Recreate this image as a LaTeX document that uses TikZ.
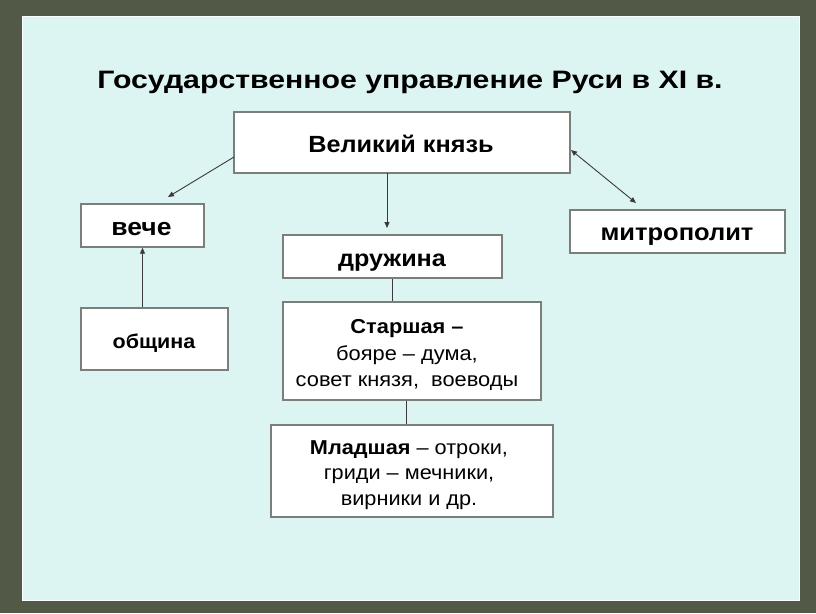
\documentclass[tikz,border=0pt]{standalone}
\usepackage{fontspec}
\setmainfont[FakeStretch=1.08]{Liberation Sans}
\newfontfamily\ttlfont[FakeStretch=1.2]{Liberation Sans}
\usetikzlibrary{arrows.meta}
\definecolor{bgolive}{HTML}{525A47}
\definecolor{slidecol}{HTML}{DDF5F2}
\definecolor{boxline}{HTML}{7A7F7C}
\definecolor{arrcol}{HTML}{3A3A3A}
\tikzset{
  box/.style={draw=boxline, line width=1.4pt, fill=white, inner sep=0pt},
  txt/.style={inner sep=0pt, align=center, text=black},
  arr/.style={draw=arrcol, line width=0.9pt, -{Triangle[length=6pt,width=5pt]}},
  darr/.style={draw=arrcol, line width=0.9pt, {Triangle[length=6pt,width=5pt]}-{Triangle[length=6pt,width=5pt]}},
  lin/.style={draw=arrcol, line width=0.9pt}
}
\begin{document}
\begin{tikzpicture}[x=1pt,y=-1pt]
\fill[bgolive] (0,0) rectangle (816,613);
\useasboundingbox (0,0) rectangle (816,613);
\fill[slidecol] (22,16) rectangle (799,600);
\draw[white!85!slidecol, line width=1pt] (22,16) rectangle (799,600);
\node[txt, anchor=base, font=\ttlfont\bfseries\fontsize{25.2}{28}\selectfont] (title) at (410,88) {Государственное управление Руси в XI в.};
% boxes
\node[box, minimum width=336pt, minimum height=61pt] (kn) at (402,142.5) {};
\node[box, minimum width=123pt, minimum height=43pt] (veche) at (142.5,225.5) {};
\node[box, minimum width=219pt, minimum height=43pt] (druzh) at (392.5,256.5) {};
\node[box, minimum width=215pt, minimum height=43pt] (metro) at (677.5,231.5) {};
\node[box, minimum width=147pt, minimum height=62pt] (obsh) at (154.5,339) {};
\node[box, minimum width=258pt, minimum height=98pt] (star) at (412,351) {};
\node[box, minimum width=282pt, minimum height=92pt] (mlad) at (412,471) {};
% texts
\node[txt, anchor=base, font=\bfseries\fontsize{23.4}{24}\selectfont] (knT) at (401,152.5) {Великий князь};
\node[txt, anchor=base, font=\bfseries\fontsize{24.5}{24}\selectfont] (vecheT) at (141.5,235) {вече};
\node[txt, anchor=base, font=\bfseries\fontsize{23.3}{24}\selectfont] (druzhT) at (392,266.5) {дружина};
\node[txt, anchor=base, font=\bfseries\fontsize{23.6}{24}\selectfont] (metroT) at (677,240) {митрополит};
\node[txt, anchor=base, font=\bfseries\fontsize{19.9}{24}\selectfont] (obshT) at (154,348.3) {община};
\node[txt, font=\fontsize{20.2}{26.5}\selectfont] (starT) at (407,355) {\textbf{Старшая –}\\бояре – дума,\\совет князя,\ \ воеводы};
\node[txt, font=\fontsize{20.1}{25.5}\selectfont] (mladT) at (409,475) {\textbf{Младшая} – отроки,\\гриди – мечники,\\вирники и др.};
% connectors
\coordinate (k1) at (234,157);
\coordinate (t1) at (168,197);
\coordinate (k2) at (387,173);
\coordinate (t2) at (387,228);
\coordinate (k3) at (571,150);
\coordinate (t3) at (636,203);
\draw[arr] (k1) -- (t1);
\draw[arr] (k2) -- (t2);
\draw[darr] (k3) -- (t3);
\draw[arr] (obsh.north -| veche.south) -- (veche.south);
\draw[lin] (druzh.south -| 392,0) -- (star.north -| 392,0);
\draw[lin] (star.south -| 406,0) -- (mlad.north -| 406,0);
\end{tikzpicture}
\end{document}
